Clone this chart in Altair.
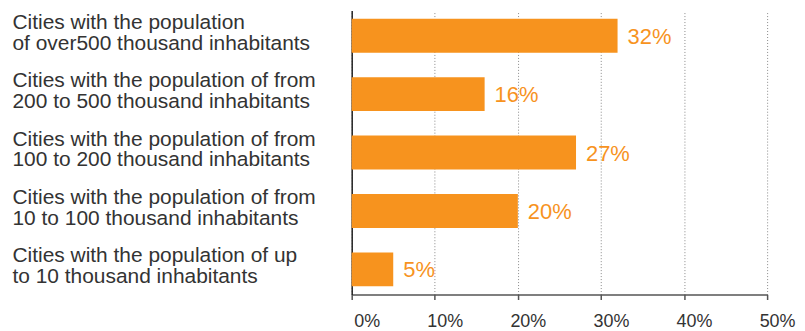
import altair as alt
import pandas as pd

categories = [
    "Cities with the population|of over500 thousand inhabitants",
    "Cities with the population of from|200 to 500 thousand inhabitants",
    "Cities with the population of from|100 to 200 thousand inhabitants",
    "Cities with the population of from|10 to 100 thousand inhabitants",
    "Cities with the population of up|to 10 thousand inhabitants",
]
shares = [32, 16, 27, 20, 5]
x_ticks = [0, 10, 20, 30, 40, 50]

df = pd.DataFrame({"cat": categories, "share": shares})
df["lbl"] = df["share"].astype(str) + "%"

ORANGE = "#F7931E"
FONT = "Liberation Sans, Arial, Helvetica, sans-serif"

y_enc = alt.Y(
    "cat:N",
    sort=None,
    title=None,
    scale=alt.Scale(paddingInner=0.42, paddingOuter=0.14),
    axis=alt.Axis(
        labelExpr="split(datum.label, '|')",
        labelAlign="left",
        labelBaseline="middle",
        labelPadding=341,
        labelOffset=-13,
        labelLineHeight=21,
        labelFontSize=21,
        labelColor="#333333",
        labelFont=FONT,
        labelLimit=400,
        ticks=False,
        tickSize=0,
        domainColor="#222222",
        domainWidth=1.5,
        grid=False,
    ),
)

x_enc = alt.X(
    "share:Q",
    title=None,
    scale=alt.Scale(domain=[0, 50], nice=False),
    axis=alt.Axis(
        values=x_ticks,
        labelExpr="datum.value + '%'",
        labelFontSize=18,
        labelColor="#333333",
        labelFont=FONT,
        labelAlign="right",
        labelOffset=28,
        labelPadding=13,
        tickSize=5,
        tickColor="#555555",
        tickWidth=1.5,
        domainColor="#555555",
        domainWidth=1.5,
        grid=True,
        gridColor="#8a8a8a",
        gridDash=[1, 2],
        gridWidth=1,
        labelFlush=False,
    ),
)

bars = alt.Chart(df).mark_bar(color=ORANGE).encode(x=x_enc, y=y_enc)

text = alt.Chart(df).mark_text(
    align="left", baseline="middle", dx=10, dy=1, fontSize=22, color=ORANGE, font=FONT
).encode(x="share:Q", y=alt.Y("cat:N", sort=None), text="lbl:N")

chart = (
    alt.layer(bars, text)
    .properties(
        width=417,
        height=285,
        autosize=alt.AutoSizeParams(type="none"),
        padding={"left": 345, "top": 2, "right": 30, "bottom": 36},
    )
    .configure_view(stroke=None)
)

chart.save("out.html", embed_options={"renderer": "svg", "actions": False})
